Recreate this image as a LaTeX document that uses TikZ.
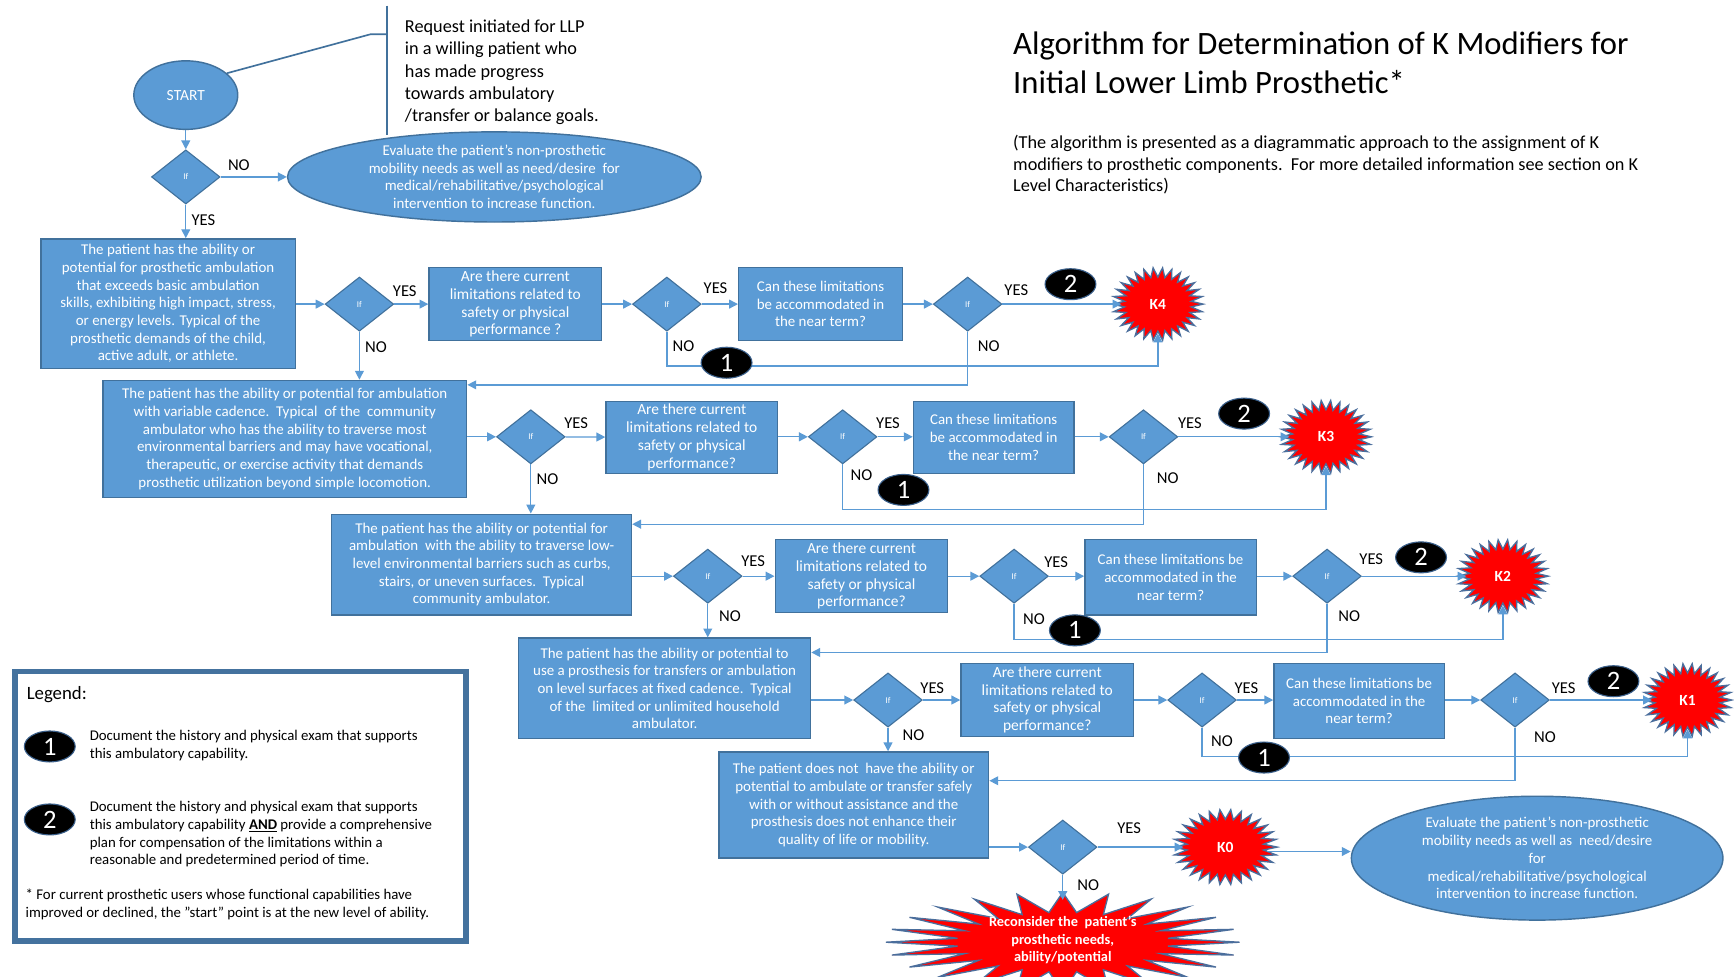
\documentclass[tikz,border=0pt]{standalone}
\usepackage{fontspec}
\setmainfont{Carlito}
\usetikzlibrary{shapes.geometric, arrows.meta}
\definecolor{boxfill}{HTML}{5B9BD5}
\definecolor{boxline}{HTML}{41719C}
\definecolor{arrowc}{HTML}{5B9BD5}
\definecolor{burstline}{HTML}{4A6E9C}
\definecolor{legline}{HTML}{44729E}
\definecolor{badgeline}{HTML}{3A5F8A}
\newcommand{\fsz}[2]{\fontsize{#1}{#2}\selectfont}
\newcommand{\kburst}[6]{%
  \fill[red, draw=burstline, line width=1.2pt] plot[samples=61, domain=0:360]
    ({#2+#4*(0.87+0.13*cos(30*\x))*cos(\x)}, {#3+#5*(0.87+0.13*cos(30*\x))*sin(\x)}) -- cycle;
  \node[kstar, minimum width={1.6*#4}, minimum height={1.6*#5}] (#1) at (#2,#3) {#6};
}
\begin{document}
\begin{tikzpicture}[x=1pt, y=-1pt,
  box/.style={rectangle, draw=boxline, fill=boxfill, line width=1.3pt, text=white, align=center, inner sep=0pt, font=\fsz{13.5}{16}},
  qbox/.style={box, font=\fsz{14}{16}},
  cbox/.style={box, font=\fsz{13.5}{16}},
  dec/.style={diamond, draw=boxline, fill=boxfill, line width=1pt, minimum width=62pt, minimum height=49pt, inner sep=0pt, text=white, font=\fsz{8}{9}},
  oval/.style={ellipse, draw=boxline, fill=boxfill, line width=1.3pt, text=white, align=center, inner sep=0pt, font=\fsz{13.5}{16}},
  arr/.style={draw=arrowc, line width=1.2pt, -{Triangle[length=8pt,width=8pt]}},
  callout/.style={draw=boxline, line width=1.5pt},
  lab/.style={font=\fsz{15}{16}, inner sep=0pt},
  badge/.style={ellipse, fill=black, draw=badgeline, line width=1pt, minimum width=46pt, minimum height=28pt, inner sep=0pt, text=white, font=\fsz{24}{24}},
  kstar/.style={ellipse, inner sep=0pt, text=white, align=center, font=\bfseries\fsz{14}{16}},
  legtext/.style={anchor=north west, align=left, inner sep=0pt, font=\fsz{13.4}{16}}
]
\useasboundingbox (0,0) rectangle (1568,883);
\fill[white] (0,0) rectangle (1568,883);

% ---- title and notes
\node[anchor=north west, align=left, inner sep=0pt, font=\fsz{29.5}{35}] (title) at (916,29)
  {Algorithm for Determination of K Modifiers for\\Initial Lower Limb Prosthetic*};
\node[anchor=north west, align=left, inner sep=0pt, font=\fsz{16.5}{19.5}] (subtitle) at (916,122)
  {(The algorithm is presented as a diagrammatic approach to the assignment of K\\
   modifiers to prosthetic components.\ \ For more detailed information see section on K\\
   Level Characteristics)};
\node[anchor=north west, align=left, inner sep=0pt, font=\fsz{16.5}{20}] (req) at (366,18)
  {Request initiated for LLP\\in a willing patient who\\has made progress\\towards ambulatory\\/transfer or balance goals.};

% ---- start
\node[ellipse, draw=boxline, fill=boxfill, line width=1.3pt, minimum width=94pt, minimum height=62pt, text=white, font=\fsz{14}{16}] (start) at (168,86) {START};
\coordinate (cbend) at (335,31);
\coordinate (ctop) at (350,5);
\coordinate (cbot) at (350,122);
\draw[callout] (start.28) -- (cbend) -- (cbend -| ctop);
\draw[callout] (ctop) -- (cbot);

\node[dec] (d0) at (168,160) {If};
\node[oval, minimum width=374pt, minimum height=76pt] (eval1) at (447,160)
  {Evaluate the patient’s non-prosthetic\\mobility needs as well as need/desire\ \ for\\medical/rehabilitative/psychological\\intervention to increase function.};

% ---- level boxes
\node[box, minimum width=230pt, minimum height=117pt] (box1) at (152,274.5)
  {The patient has the ability or\\potential for prosthetic ambulation\\that exceeds basic ambulation\\skills, exhibiting high impact, stress,\\or energy levels. Typical of the\\prosthetic demands of the child,\\active adult, or athlete.};
\node[box, minimum width=329pt, minimum height=106pt] (box2) at (257.5,397)
  {The patient has the ability or potential for ambulation\\with variable cadence.\ \ Typical\ \ of the\ \ community\\ambulator who has the ability to traverse most\\environmental barriers and may have vocational,\\therapeutic, or exercise activity that demands\\prosthetic utilization beyond simple locomotion.};
\node[box, minimum width=271pt, minimum height=91pt] (box3) at (435.5,510.5)
  {The patient has the ability or potential for\\ambulation\ \ with the ability to traverse low-\\level environmental barriers such as curbs,\\stairs, or uneven surfaces.\ \ Typical\\community ambulator.};
\node[box, minimum width=264pt, minimum height=91pt] (box4) at (601,622.5)
  {The patient has the ability or potential to\\use a prosthesis for transfers or ambulation\\on level surfaces at fixed cadence.\ \ Typical\\of the\ \ limited or unlimited household\\ambulator.};
\node[box, minimum width=244pt, minimum height=96pt] (box5) at (772,728)
  {The patient does not\ \ have the ability or\\potential to ambulate or transfer safely\\with or without assistance and the\\prosthesis does not enhance their\\quality of life or mobility.};

% ---- question boxes
\node[qbox, minimum width=156pt, minimum height=66pt] (q1) at (466,275) {Are there current\\limitations related to\\safety or physical\\performance ?};
\node[cbox, minimum width=148pt, minimum height=66pt] (c1) at (742,275) {Can these limitations\\be accommodated in\\the near term?};
\node[qbox, minimum width=155pt, minimum height=65pt] (q2) at (625.5,395.5) {Are there current\\limitations related to\\safety or physical\\performance?};
\node[cbox, minimum width=145pt, minimum height=65pt] (c2) at (898.5,395.5) {Can these limitations\\be accommodated in\\the near term?};
\node[qbox, minimum width=156pt, minimum height=66pt] (q3) at (779,521) {Are there current\\limitations related to\\safety or physical\\performance?};
\node[cbox, minimum width=155pt, minimum height=68pt] (c3) at (1058.5,522) {Can these limitations be\\accommodated in the\\near term?};
\node[qbox, minimum width=156pt, minimum height=66pt] (q4) at (947,633) {Are there current\\limitations related to\\safety or physical\\performance?};
\node[cbox, minimum width=154pt, minimum height=68pt] (c4) at (1229,634) {Can these limitations be\\accommodated in the\\near term?};

% ---- decisions
\node[dec] (a1) at (325,275) {If};
\node[dec] (b1) at (603,275) {If};
\node[dec] (e1) at (875,275) {If};
\node[dec] (a2) at (480,395) {If};
\node[dec] (b2) at (762,395) {If};
\node[dec] (e2) at (1034,395) {If};
\node[dec] (a3) at (640,521) {If};
\node[dec] (b3) at (917,521) {If};
\node[dec] (e3) at (1200,521) {If};
\node[dec] (a4) at (803,633) {If};
\node[dec] (b4) at (1087,633) {If};
\node[dec] (e4) at (1370,633) {If};
\node[dec] (d5) at (961,766) {If};

% ---- K bursts
\kburst{k4}{1047}{275}{41}{33}{K4}
\kburst{k3}{1199}{395}{41}{33}{K3}
\kburst{k2}{1359}{521}{41}{33}{K2}
\kburst{k1}{1526}{633}{40}{33}{K1}
\kburst{k0}{1108}{766}{47}{34}{K0}

\fill[red, draw=burstline, line width=1.2pt] plot[samples=49, domain=0:360]
  ({961+160*(0.8+0.2*cos(24*\x))*cos(\x)}, {852+45*(0.8+0.2*cos(24*\x))*sin(\x)}) -- cycle;
\node[kstar, minimum width=200pt, minimum height=72pt, font=\bfseries\fsz{13}{16}] (rec) at (961,850)
  {Reconsider the\ \ patient’s\\prosthetic needs,\\ability/potential};

\node[oval, minimum width=336pt, minimum height=112pt] (eval2) at (1390,776)
  {Evaluate the patient’s non-prosthetic\\mobility needs as well as\ \ need/desire\\for\\medical/rehabilitative/psychological\\intervention to increase function.};

% ---- connectors
\draw[arr] (start) -- (d0);
\draw[arr] (d0) -- (eval1);
\draw[arr] (d0.south) -- (d0.south |- box1.north);

\draw[arr] (box1.east |- a1) -- (a1);
\draw[arr] (a1) -- (q1);
\draw[arr] (q1) -- (b1);
\draw[arr] (b1) -- (c1);
\draw[arr] (c1) -- (e1);
\draw[arr] (e1) -- (k4);
\draw[arr] (b1.south) -- (b1.south |- 0,331) -| (k4.south);
\draw[arr] (e1.south) |- (box2.east |- 0,348);
\draw[arr] (a1.south) -- (a1.south |- box2.north);

\draw[arr] (box2.east |- a2) -- (a2);
\draw[arr] (a2) -- (q2);
\draw[arr] (q2.east |- b2) -- (b2);
\draw[arr] (b2) -- (c2.west |- b2);
\draw[arr] (c2.east |- e2) -- (e2);
\draw[arr] (e2) -- (k3);
\draw[arr] (b2.south) -- (b2.south |- 0,461) -| (k3.south);
\draw[arr] (e2.south) |- (box3.east |- 0,474);
\draw[arr] (a2.south) -- (a2.south |- box3.north);

\draw[arr] (box3.east |- a3) -- (a3);
\draw[arr] (a3) -- (q3);
\draw[arr] (q3) -- (b3);
\draw[arr] (b3) -- (c3.west |- b3);
\draw[arr] (c3.east |- e3) -- (e3);
\draw[arr] (e3) -- (k2);
\draw[arr] (b3.south) -- (b3.south |- 0,578) -| (k2.south);
\draw[arr] (e3.south) |- (box4.east |- 0,590);
\draw[arr] (a3.south) -- (a3.south |- box4.north);

\draw[arr] (box4.east |- a4) -- (a4);
\draw[arr] (a4) -- (q4);
\draw[arr] (q4) -- (b4);
\draw[arr] (b4) -- (c4.west |- b4);
\draw[arr] (c4.east |- e4) -- (e4);
\draw[arr] (e4) -- (k1);
\draw[arr] (b4.south) -- (b4.south |- 0,684) -| (k1.south);
\draw[arr] (e4.south) |- (box5.east |- 0,706);
\draw[arr] (a4.south) -- (a4.south |- box5.north);

\draw[arr] (box5.east |- d5) -- (d5);
\draw[arr] (d5) -- (k0);
\draw[arr] (k0.east |- 0,770) -- (eval2.west |- 0,770);
\draw[arr] (d5.south) -- (rec.north);

% ---- YES / NO labels
\node[lab] (l0n) at (216,149) {NO};
\node[lab] (l0y) at (184,199) {YES};
\node[lab] at (366,263) {YES};  \node[lab] at (340,314) {NO};
\node[lab] at (647,261) {YES};  \node[lab] at (618,313) {NO};
\node[lab] at (919,262) {YES};  \node[lab] at (894,313) {NO};
\node[lab] at (521,383) {YES};  \node[lab] at (495,433) {NO};
\node[lab] at (803,383) {YES};  \node[lab] at (779,430) {NO};
\node[lab] at (1076,383) {YES}; \node[lab] at (1056,432) {NO};
\node[lab] at (681,507) {YES};  \node[lab] at (660,557) {NO};
\node[lab] at (955,508) {YES};  \node[lab] at (935,560) {NO};
\node[lab] at (1240,506) {YES}; \node[lab] at (1220,557) {NO};
\node[lab] at (843,622) {YES};  \node[lab] at (826,665) {NO};
\node[lab] at (1127,622) {YES}; \node[lab] at (1105,670) {NO};
\node[lab] at (1414,622) {YES}; \node[lab] at (1397,667) {NO};
\node[lab] at (1021,749) {YES}; \node[lab] at (984,800) {NO};

% ---- badges
\node[badge] (n2a) at (968,257) {2};
\node[badge] (n2b) at (1125,374) {2};
\node[badge] (n2c) at (1285,504) {2};
\node[badge] (n2d) at (1459,616) {2};
\node[badge] (n1a) at (657,328) {1};
\node[badge] (n1b) at (817,443) {1};
\node[badge] (n1c) at (972,570) {1};
\node[badge] (n1d) at (1143,685) {1};

% ---- legend
\node[draw=legline, fill=white, line width=5pt, minimum width=408pt, minimum height=244pt, inner sep=0pt, anchor=north west] (legend) at (11,604.5) {};
\node[anchor=west, inner sep=0pt, font=\fsz{17}{18}] (legtitle) at (24,628) {Legend:};
\node[badge] (lb1) at (45,675) {1};
\node[legtext] (lt1) at (81,660.5) {Document the history and physical exam that supports\\this ambulatory capability.};
\node[badge] (lb2) at (45,741) {2};
\node[legtext] (lt2) at (81,724.5) {Document the history and physical exam that supports\\this ambulatory capability \textbf{\underline{AND}} provide a comprehensive\\plan for compensation of the limitations within a\\reasonable and predetermined period of time.};
\node[legtext] (lt3) at (23,803.5) {* For current prosthetic users whose functional capabilities have\\improved or declined, the "start" point is at the new level of ability.};
\end{tikzpicture}
\end{document}
